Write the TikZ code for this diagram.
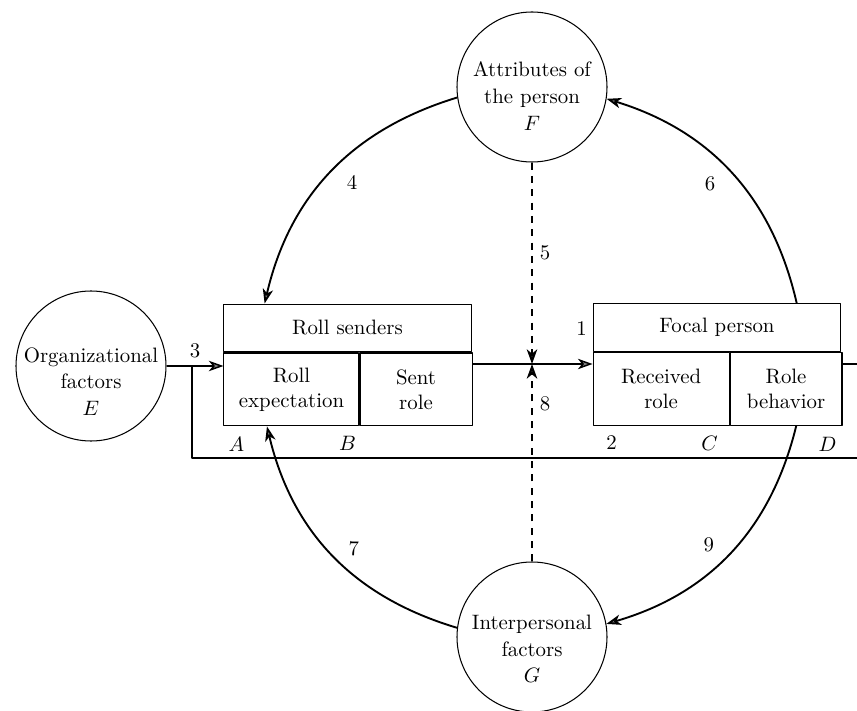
\documentclass[tikz,border=0pt]{standalone}
\usetikzlibrary{arrows.meta, calc}
\tikzset{
  factor/.style={circle, draw, line width=0.5pt, minimum size=72pt, inner sep=0pt},
  factortext/.style={align=center, font=\fontsize{10}{12.8}\selectfont},
  cell/.style={draw, line width=0.5pt, align=center, inner sep=0pt},
  tag/.style={inner sep=0pt},
  tip/.style={-{Stealth[length=7pt, width=5pt, inset=2pt, fill=gray]}},
  flow/.style={tip, line width=0.7pt},
  sway/.style={tip, line width=0.9pt},
  cue/.style={tip, line width=1pt, dash pattern=on 3.4pt off 3pt},
  loop/.style={line width=0.6pt}
}
\begin{document}
\begin{tikzpicture}[x=0.48pt, y=-0.48pt, line join=round]
  \useasboundingbox (0,0) rectangle (857,711);

  % the three factors
  \node[factor, label={[factortext, yshift=-7.4pt]center:{Organizational\\factors\\$E$}}] (E) at (91,366) {};
  \node[factor, label={[factortext, yshift=-4.4pt]center:{Attributes of\\the person\\$F$}}] (F) at (532,87) {};
  \node[factor, label={[factortext, yshift=-5.8pt]center:{Interpersonal\\factors\\$G$}}] (G) at (532,637) {};

  % role senders
  \node[cell, minimum width=118.6pt, minimum height=23pt] (senders) at (347.5,328) {Roll senders};
  \node[cell, minimum width=64.8pt, minimum height=35pt, anchor=north west] (expect) at (senders.south west) {Roll\\expectation};
  \node[cell, minimum width=53.8pt, minimum height=35pt, anchor=north west] (sent) at (expect.north east) {Sent\\role};

  % focal person
  \node[cell, minimum width=119pt, minimum height=23pt] (focal) at (717,327.5) {Focal person};
  \node[cell, minimum width=65.3pt, minimum height=35pt, anchor=north west] (received) at (focal.south west) {Received\\role};
  \node[cell, minimum width=53.7pt, minimum height=35pt, anchor=north west] (behavior) at (received.north east) {Role\\behavior};

  % corner letters
  \node[tag] at ($(focal.west)+(-11,1.5)$) {1};
  \node[tag] at ($(expect.south west)+(13,18)$) {$A$};
  \node[tag] at ($(expect.south east)+(-12,17)$) {$B$};
  \node[tag] at ($(received.south west)+(19,17)$) {2};
  \node[tag] at ($(received.south east)+(-20,17)$) {$C$};
  \node[tag] at ($(behavior.south east)+(-15,18)$) {$D$};

  \coordinate (meet) at (532,364);
  \coordinate (join) at (192,366);
  \coordinate (outR) at (857,364);
  \coordinate (backR) at (857,458);

  % straight flows
  \draw[flow] (E) -- (E -| expect.west) node[midway, above] {3};
  \draw[flow] (sent.east |- meet) -- (received.west |- meet);
  \draw[cue] (F) -- (meet) node[pos=0.45, right] {5};
  \draw[cue] (G) -- (meet) node[pos=0.8, right] {8};

  % feedback loop
  \draw[loop] (behavior.east |- meet) -- (outR);
  \draw[loop] (backR) -- (backR -| join) -- (join);

  % curved influences
  \draw[sway] (F.188) to[bend right=30] node[midway, below right, xshift=4pt, yshift=2.5pt] {4} ($(senders.north west)!0.166!(senders.north east)$);
  \draw[sway] ($(focal.north west)!0.82!(focal.north east)$) to[bend right=30] node[midway, left=4pt, yshift=-5pt] {6} (F.351);
  \draw[sway] ($(behavior.south west)!0.59!(behavior.south east)$) to[bend left=30] node[midway, left=4pt, yshift=4pt] {9} (G.10);
  \draw[sway] (G.173) to[bend left=30] node[midway, right=4pt, yshift=3pt] {7} ($(expect.south west)!0.32!(expect.south east)$);
\end{tikzpicture}
\end{document}
